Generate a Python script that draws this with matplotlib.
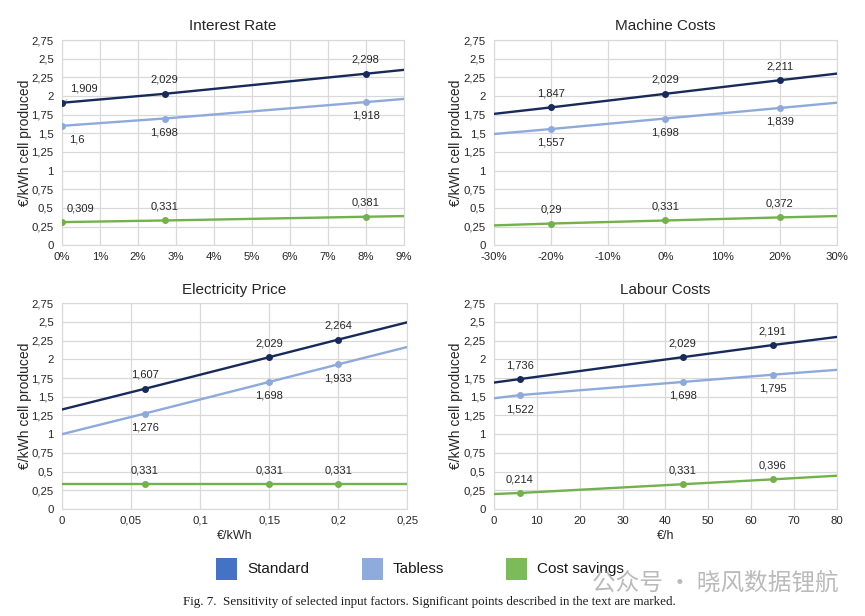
import matplotlib
matplotlib.use('Agg')
import matplotlib.pyplot as plt
from matplotlib.ticker import FuncFormatter, MultipleLocator
from matplotlib.patches import Rectangle

plt.rcParams['font.family'] = ['Liberation Sans', 'DejaVu Sans']

# ---------------------------------------------------------------------------
# Data (x includes the axis ends where the trend lines run out)
# ---------------------------------------------------------------------------
interest_x = [0, 2.7, 8, 9]
interest_std = [1.909, 2.029, 2.298, 2.35]
interest_tab = [1.6, 1.698, 1.918, 1.96]
interest_sav = [0.309, 0.331, 0.381, 0.39]
interest_marked = [0, 1, 2]

machine_x = [-30, -20, 0, 20, 30]
machine_std = [1.76, 1.847, 2.029, 2.211, 2.30]
machine_tab = [1.49, 1.557, 1.698, 1.839, 1.91]
machine_sav = [0.265, 0.29, 0.331, 0.372, 0.39]
machine_marked = [1, 2, 3]

elec_x = [0, 0.06, 0.15, 0.2, 0.25]
elec_std = [1.33, 1.607, 2.029, 2.264, 2.495]
elec_tab = [1.0, 1.276, 1.698, 1.933, 2.165]
elec_sav = [0.331, 0.331, 0.331, 0.331, 0.331]
elec_marked = [1, 2, 3]

labour_x = [0, 6, 44, 65, 80]
labour_std = [1.69, 1.736, 2.029, 2.191, 2.30]
labour_tab = [1.48, 1.522, 1.698, 1.795, 1.86]
labour_sav = [0.20, 0.214, 0.331, 0.396, 0.445]
labour_marked = [1, 2, 3]

SERIES_NAMES = ['Standard', 'Tabless', 'Cost savings']

COLOR_STD = '#172a5a'
COLOR_TAB = '#8eaadb'
COLOR_SAV = '#72b14b'
LEGEND_COLORS = ['#4472c4', '#8faadc', '#7dbb5a']
GRID = '#d9d9d9'
TEXT = '#262626'
LABEL_SIZE = 8


def comma(v, pos=None):
    return f'{v:g}'.replace('.', ',')


def percent(v, pos=None):
    return f'{v:.0f}%'


def style_axes(ax, title, xlim, xstep, xfmt, xlabel=None):
    ax.set_xlim(*xlim)
    ax.set_ylim(0, 2.75)
    ax.xaxis.set_major_locator(MultipleLocator(xstep))
    ax.yaxis.set_major_locator(MultipleLocator(0.25))
    ax.xaxis.set_major_formatter(FuncFormatter(xfmt))
    ax.yaxis.set_major_formatter(FuncFormatter(comma))
    ax.grid(True, color=GRID, linewidth=0.9)
    ax.set_axisbelow(True)
    for s in ax.spines.values():
        s.set_color(GRID)
    ax.tick_params(length=0, labelsize=8.2, colors=TEXT)
    ax.tick_params(axis='y', pad=6)
    ax.tick_params(axis='x', pad=5)
    ax.set_title(title, fontsize=11, color=TEXT, pad=7)
    ax.set_ylabel('€/kWh cell produced', fontsize=10, color=TEXT, labelpad=0)
    if xlabel:
        ax.set_xlabel(xlabel, fontsize=9, color=TEXT, labelpad=3)


def label(ax, x, y, dx, dy, leader=False):
    kw = {}
    if leader:
        kw['arrowprops'] = dict(arrowstyle='-', color='#a6a6a6', lw=0.6, shrinkA=4, shrinkB=2)
    ax.annotate(comma(round(y, 3)), (x, y), textcoords='offset points', xytext=(dx, dy),
                ha='center', va='center', fontsize=LABEL_SIZE, color=TEXT, **kw)


def draw_series(ax, x, ys, marked, offsets):
    colors = [COLOR_STD, COLOR_TAB, COLOR_SAV]
    for y, c, off in zip(ys, colors, offsets):
        ax.plot(x, y, color=c, linewidth=1.7, zorder=3)
        ax.plot([x[i] for i in marked], [y[i] for i in marked], 'o', color=c,
                markersize=4, zorder=4)
        for i in marked:
            label(ax, x[i], y[i], 0, off)


fig = plt.figure(figsize=(8.65, 6.16), dpi=100)

ax1 = fig.add_axes([0.0717, 0.602, 0.395, 0.333])
ax2 = fig.add_axes([0.571, 0.602, 0.3965, 0.333])
ax3 = fig.add_axes([0.0717, 0.1737, 0.399, 0.334])
ax4 = fig.add_axes([0.571, 0.1737, 0.3965, 0.334])

# Interest rate: the 0% labels sit off to the side with leader lines
colors = [COLOR_STD, COLOR_TAB, COLOR_SAV]
for y, c in zip([interest_std, interest_tab, interest_sav], colors):
    ax1.plot(interest_x, y, color=c, linewidth=1.7, zorder=3)
    ax1.plot([interest_x[i] for i in interest_marked], [y[i] for i in interest_marked],
             'o', color=c, markersize=4, zorder=4)
for i in [1, 2]:
    label(ax1, interest_x[i], interest_std[i], 0, 10)
    label(ax1, interest_x[i], interest_tab[i], 0, -10)
    label(ax1, interest_x[i], interest_sav[i], 0, 10)
label(ax1, interest_x[0], interest_sav[0], 13, 10)
label(ax1, interest_x[0], interest_std[0], 16, 10, leader=True)
label(ax1, interest_x[0], interest_tab[0], 11, -10, leader=True)
style_axes(ax1, 'Interest Rate', (0, 9), 1, percent)

draw_series(ax2, machine_x, [machine_std, machine_tab, machine_sav], machine_marked, [10, -10, 10])
style_axes(ax2, 'Machine Costs', (-30, 30), 10, percent)

draw_series(ax3, elec_x, [elec_std, elec_tab, elec_sav], elec_marked, [10, -10, 10])
style_axes(ax3, 'Electricity Price', (0, 0.25), 0.05, comma, '€/kWh')

draw_series(ax4, labour_x, [labour_std, labour_tab, labour_sav], labour_marked, [10, -10, 10])
style_axes(ax4, 'Labour Costs', (0, 80), 10, comma, '€/h')

# Legend below the panels
legend_x = [0.2497, 0.4185, 0.585]
for name, c, lx in zip(SERIES_NAMES, LEGEND_COLORS, legend_x):
    fig.patches.append(Rectangle((lx, 0.0584), 0.0243, 0.0357, transform=fig.transFigure,
                                 facecolor=c, edgecolor='none'))
    fig.text(lx + 0.0358, 0.0755, name, fontsize=11, color='#1a1a1a', va='center', ha='left')

# watermark, lying over the legend as in the source image
fig.text(0.684, 0.053, '公众号 · 晓风数据锂航', fontsize=17, color='#b3b3b3', alpha=0.9,
         va='center', ha='left', family=['Noto Sans CJK SC', 'DejaVu Sans'])

fig.text(0.2116, 0.023, 'Fig. 7.  Sensitivity of selected input factors. Significant points described in the text are marked.',
         fontsize=9.4, color='#1a1a1a', va='center', ha='left', family=['Liberation Serif', 'DejaVu Serif'])

fig.savefig('out.png', dpi=100)
